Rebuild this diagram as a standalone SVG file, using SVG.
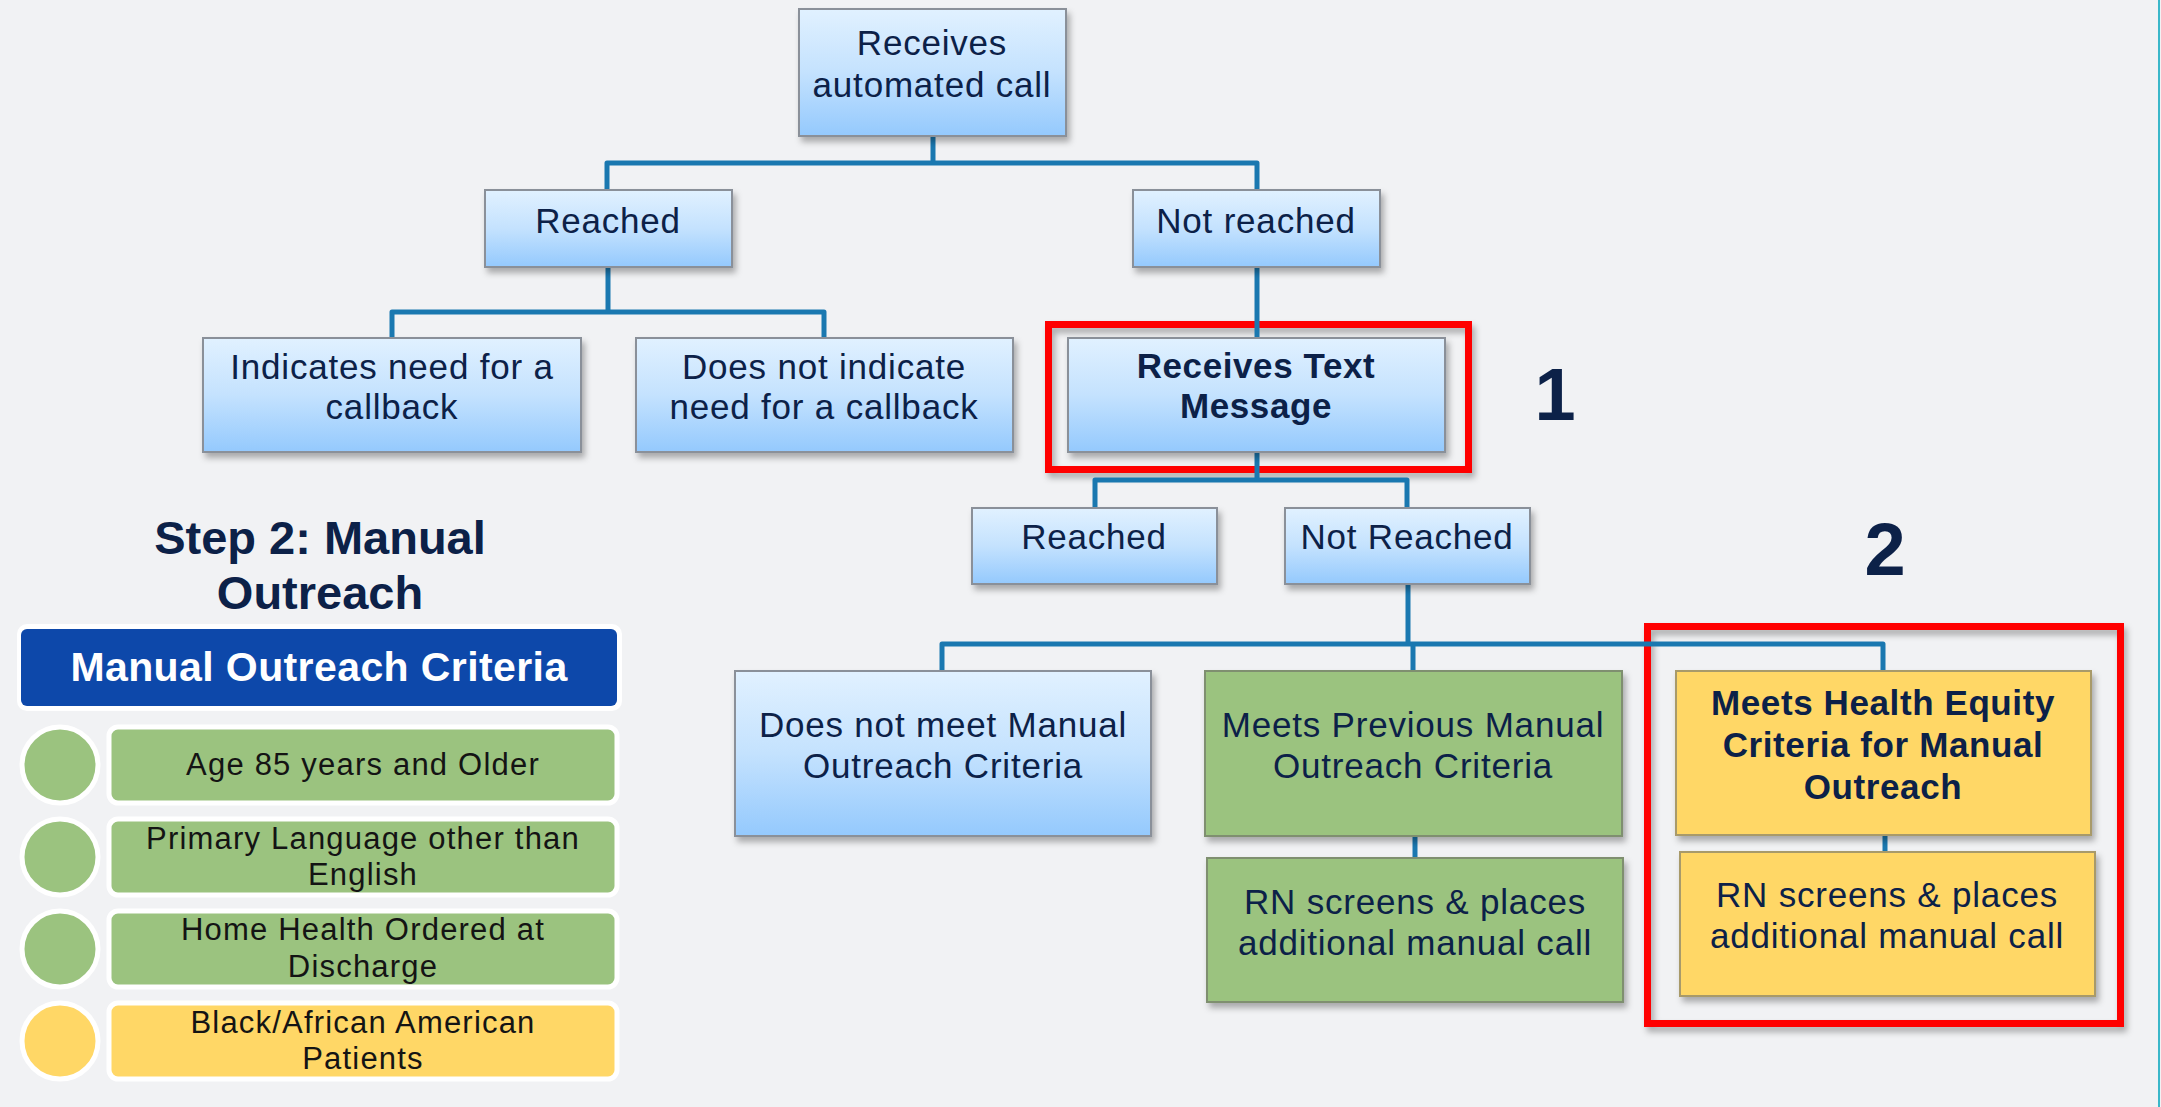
<svg xmlns="http://www.w3.org/2000/svg" width="2161" height="1107" viewBox="0 0 2161 1107">
<defs>
<linearGradient id="gBlue" x1="0" y1="0" x2="0" y2="1">
<stop offset="0" stop-color="#e1f1ff"/>
<stop offset="0.5" stop-color="#c4e2fe"/>
<stop offset="1" stop-color="#94c9fd"/>
</linearGradient>
<filter id="sh" x="-10%" y="-10%" width="125%" height="130%">
<feDropShadow dx="3" dy="5" stdDeviation="3" flood-color="#000" flood-opacity="0.3"/>
</filter>
<style>
.bg{fill:#f1f2f4}
.bx{fill:url(#gBlue);stroke:#8a9099;stroke-width:2;filter:url(#sh)}
.gr{fill:#9bc37f;stroke:#7f8f70;stroke-width:2;filter:url(#sh)}
.yl{fill:#ffd766;stroke:#a89a6a;stroke-width:2;filter:url(#sh)}
.red{fill:none;stroke:#ff0000;stroke-width:7;filter:url(#sh)}
.cn{fill:none;stroke:#1a78b0;stroke-width:5;stroke-linejoin:round}
.t{font-family:"Liberation Sans",Arial,sans-serif;font-size:35px;letter-spacing:0.8px;fill:#0c2148;text-anchor:middle}
.tb{font-family:"Liberation Sans",Arial,sans-serif;font-size:35px;letter-spacing:0.6px;font-weight:bold;fill:#0c2148;text-anchor:middle}
.num{font-family:"Liberation Sans",Arial,sans-serif;font-size:74px;font-weight:bold;fill:#0c2148;text-anchor:middle}
.ttl{font-family:"Liberation Sans",Arial,sans-serif;font-size:47px;font-weight:bold;fill:#0c2148;text-anchor:middle}
.hd{font-family:"Liberation Sans",Arial,sans-serif;font-size:41px;letter-spacing:0.4px;font-weight:bold;fill:#ffffff;text-anchor:middle}
.rt{font-family:"Liberation Sans",Arial,sans-serif;font-size:31px;letter-spacing:1.2px;fill:#141414;text-anchor:middle}
.ring{stroke:#ffffff;stroke-width:5}
</style>
</defs>
<rect class="bg" x="0" y="0" width="2161" height="1107"/>
<line x1="2159" y1="0" x2="2159" y2="1107" stroke="#3ab7c9" stroke-width="2"/>

<g id="highlights">
<rect class="red" x="1048.5" y="324.5" width="420" height="145"/>
<rect class="red" x="1647.5" y="626.5" width="473" height="397"/>
</g>

<g id="connectors">
<path class="cn" d="M933,136 V163 M607,190 V163 H1257 V190"/>
<path class="cn" d="M608,267 V312 M392,338 V312 H824 V338"/>
<path class="cn" d="M1257,267 V338"/>
<path class="cn" d="M1257,452 V480 M1095,508 V480 H1407 V508"/>
<path class="cn" d="M1408,584 V644 M942,671 V644 H1883 V671 M1413,644 V671"/>
<path class="cn" d="M1415,836 V858"/>
<path class="cn" d="M1885,835 V852"/>
</g>

<g id="n-auto">
<rect class="bx" x="799" y="9" width="267" height="127"/>
<text class="t" x="932" y="55">Receives</text>
<text class="t" x="932" y="97">automated call</text>
</g>
<g id="n-reached1">
<rect class="bx" x="485" y="190" width="247" height="77"/>
<text class="t" x="608" y="233">Reached</text>
</g>
<g id="n-notreached1">
<rect class="bx" x="1133" y="190" width="247" height="77"/>
<text class="t" x="1256" y="233">Not reached</text>
</g>
<g id="n-indicates">
<rect class="bx" x="203" y="338" width="378" height="114"/>
<text class="t" x="392" y="379">Indicates need for a</text>
<text class="t" x="392" y="419">callback</text>
</g>
<g id="n-notindicate">
<rect class="bx" x="636" y="338" width="377" height="114"/>
<text class="t" x="824" y="379">Does not indicate</text>
<text class="t" x="824" y="419">need for a callback</text>
</g>
<g id="n-text">
<rect class="bx" x="1068" y="338" width="377" height="114"/>
<text class="tb" x="1256" y="378">Receives Text</text>
<text class="tb" x="1256" y="418">Message</text>
</g>
<g id="n-reached2">
<rect class="bx" x="972" y="508" width="245" height="76"/>
<text class="t" x="1094" y="549">Reached</text>
</g>
<g id="n-notreached2">
<rect class="bx" x="1285" y="508" width="245" height="76"/>
<text class="t" x="1407" y="549">Not Reached</text>
</g>
<g id="n-notmeet">
<rect class="bx" x="735" y="671" width="416" height="165"/>
<text class="t" x="943" y="737">Does not meet Manual</text>
<text class="t" x="943" y="778">Outreach Criteria</text>
</g>
<g id="n-prev">
<rect class="gr" x="1205" y="671" width="417" height="165"/>
<text class="t" x="1413" y="737">Meets Previous Manual</text>
<text class="t" x="1413" y="778">Outreach Criteria</text>
</g>
<g id="n-equity">
<rect class="yl" x="1676" y="671" width="415" height="164"/>
<text class="tb" x="1883" y="715">Meets Health Equity</text>
<text class="tb" x="1883" y="757">Criteria for Manual</text>
<text class="tb" x="1883" y="799">Outreach</text>
</g>
<g id="n-rn-green">
<rect class="gr" x="1207" y="858" width="416" height="144"/>
<text class="t" x="1415" y="914">RN screens &amp; places</text>
<text class="t" x="1415" y="955">additional manual call</text>
</g>
<g id="n-rn-yellow">
<rect class="yl" x="1680" y="852" width="415" height="144"/>
<text class="t" x="1887" y="907">RN screens &amp; places</text>
<text class="t" x="1887" y="948">additional manual call</text>
</g>

<g id="labels">
<text class="num" x="1555" y="420">1</text>
<text class="num" x="1885" y="575">2</text>
</g>

<g id="legend">
<text class="ttl" x="320" y="554">Step 2: Manual</text>
<text class="ttl" x="320" y="609">Outreach</text>
<rect x="17" y="624" width="605" height="87" rx="10" fill="#ffffff"/>
<rect x="21" y="629" width="596" height="77" rx="6" fill="#0d48aa"/>
<text class="hd" x="319" y="681">Manual Outreach Criteria</text>

<g id="row1">
<circle class="ring" cx="60" cy="765" r="38" fill="#9bc37f"/>
<rect class="ring" x="109" y="727" width="508" height="76" rx="9" fill="#9bc37f"/>
<text class="rt" x="363" y="775">Age 85 years and Older</text>
</g>
<g id="row2">
<circle class="ring" cx="60" cy="857" r="38" fill="#9bc37f"/>
<rect class="ring" x="109" y="819" width="508" height="76" rx="9" fill="#9bc37f"/>
<text class="rt" x="363" y="849">Primary Language other than</text>
<text class="rt" x="363" y="885">English</text>
</g>
<g id="row3">
<circle class="ring" cx="60" cy="949" r="38" fill="#9bc37f"/>
<rect class="ring" x="109" y="911" width="508" height="76" rx="9" fill="#9bc37f"/>
<text class="rt" x="363" y="940">Home Health Ordered at</text>
<text class="rt" x="363" y="977">Discharge</text>
</g>
<g id="row4">
<circle class="ring" cx="60" cy="1041" r="38" fill="#ffd766"/>
<rect class="ring" x="109" y="1003" width="508" height="76" rx="9" fill="#ffd766"/>
<text class="rt" x="363" y="1033">Black/African American</text>
<text class="rt" x="363" y="1069">Patients</text>
</g>
</g>
</svg>
